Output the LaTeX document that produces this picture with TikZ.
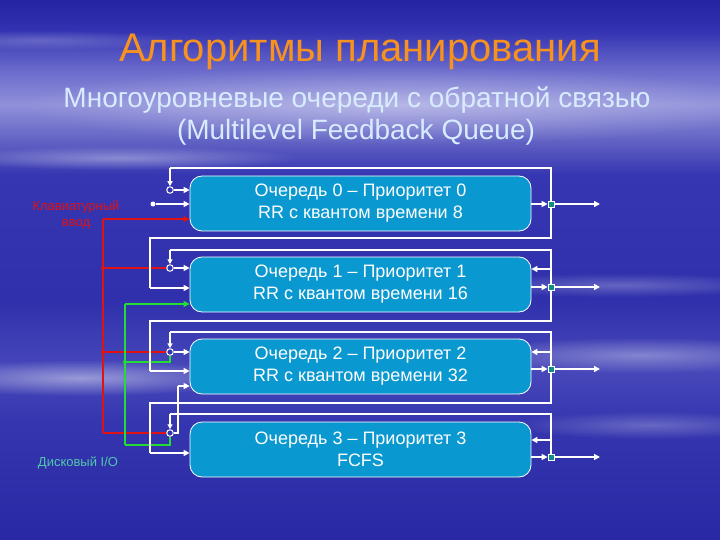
\documentclass[tikz,border=0pt]{standalone}
\usepackage{fontspec}
\setmainfont{Liberation Sans}
\usetikzlibrary{arrows.meta,fadings}
\definecolor{qfill}{HTML}{0A98D0}
\definecolor{sqfill}{HTML}{138D8A}
\definecolor{ringfill}{HTML}{3434B0}
\definecolor{titleor}{HTML}{F7921E}
\definecolor{subcol}{HTML}{D8ECFF}
\definecolor{redln}{HTML}{E01212}
\definecolor{greenln}{HTML}{22DD33}
\definecolor{iocol}{HTML}{50C8AA}
\definecolor{b0}{HTML}{2525A2}
\definecolor{b1}{HTML}{3232B2}
\definecolor{b2}{HTML}{6A6ACC}
\definecolor{b3}{HTML}{9090DA}
\definecolor{b4}{HTML}{6262C4}
\definecolor{b5}{HTML}{3636B2}
\definecolor{b6}{HTML}{3030AC}
\definecolor{b7}{HTML}{4848BA}
\definecolor{b8}{HTML}{3636B0}
\definecolor{b9}{HTML}{2828A4}
\pgfdeclareverticalshading{bgshade}{100bp}{color(0bp)=(b9); color(25bp)=(b9); color(36.1bp)=(b8); color(40.7bp)=(b7); color(47.2bp)=(b6); color(58.8bp)=(b5); color(62bp)=(b4); color(65.3bp)=(b3); color(68.5bp)=(b2); color(72.2bp)=(b1); color(75bp)=(b0); color(100bp)=(b0)}
\tikzfading[name=softoval, inner color=transparent!0, outer color=transparent!100]
\begin{document}
\begin{tikzpicture}[x=1pt,y=-1pt,
  wire/.style={white, line width=1.2pt},
  arr/.style={white, line width=1.8pt, -{Triangle[length=6pt,width=6pt]}},
  arrthin/.style={white, line width=1.2pt, -{Triangle[length=5pt,width=5pt]}},
  redw/.style={redln, line width=1.3pt},
  greenw/.style={greenln, line width=1.3pt},
  qbox/.style={rounded corners=12pt, fill=qfill, draw=white, line width=0.8pt,
    minimum width=341pt, minimum height=55pt, text=white, align=center,
    font=\fontsize{18}{22}\selectfont},
  ring/.style={circle, draw=white, line width=1pt, fill=ringfill, inner sep=0pt, minimum size=6.5pt},
  outsq/.style={rectangle, draw=white, fill=sqfill, line width=0.8pt, inner sep=0pt, minimum size=6pt},
  wdot/.style={circle, fill=white, inner sep=0pt, minimum size=5pt},
  rdot/.style={circle, fill=redln, inner sep=0pt, minimum size=4pt},
  gdot/.style={circle, fill=greenln, inner sep=0pt, minimum size=4pt},
  streak/.style={white, path fading=softoval}
]
\useasboundingbox (0,0) rectangle (720,540);
\shade[shading=bgshade] (0,0) rectangle (720,540);
% streaks
\fill[streak, opacity=0.35] (400,105) ellipse [x radius=380, y radius=40];
\fill[streak, opacity=0.35] (120,158) ellipse [x radius=180, y radius=12];
\fill[streak, opacity=0.25] (620,285) ellipse [x radius=160, y radius=12];
\fill[streak, opacity=0.45] (80,378) ellipse [x radius=170, y radius=18];
\fill[streak, opacity=0.35] (640,355) ellipse [x radius=180, y radius=18];
\fill[streak, opacity=0.25] (650,425) ellipse [x radius=140, y radius=14];
\fill[streak, opacity=0.2] (40,40) ellipse [x radius=140, y radius=10];

% titles
\node[text=titleor, font=\fontsize{40}{48}\selectfont] (title) at (360,52) {Алгоритмы планирования};
\node[text=subcol, font=\fontsize{28}{32}\selectfont] (sub1) at (357,100) {Многоуровневые очереди с обратной связью};
\node[text=subcol, font=\fontsize{28}{32}\selectfont] (sub2) at (356,132) {(Multilevel Feedback Queue)};

% coordinates
\coordinate (tl0) at (170,168); \coordinate (tr0) at (551,168);
\coordinate (br0) at (551,238); \coordinate (bl0) at (150,238); \coordinate (e1) at (150,288);
\coordinate (tl1) at (170,250); \coordinate (tr1) at (551,250);
\coordinate (br1) at (551,321); \coordinate (bl1) at (150,321); \coordinate (e2) at (150,371);
\coordinate (tl2) at (170,332); \coordinate (tr2) at (551,332);
\coordinate (br2) at (551,403); \coordinate (bl2) at (150,403); \coordinate (e3) at (150,453);
\coordinate (tl3) at (170,414); \coordinate (tr3) at (551,414);
\coordinate (a1) at (551,269); \coordinate (a2) at (551,352); \coordinate (a3) at (551,440);
\coordinate (x0) at (600,204); \coordinate (x1) at (600,287); \coordinate (x2) at (600,369); \coordinate (x3) at (600,457);
\coordinate (k3a) at (178,433); \coordinate (k3b) at (178,386);
\coordinate (rt) at (103,219); \coordinate (rb) at (103,433);
\coordinate (gt) at (125,304); \coordinate (gb) at (125,445);
\coordinate (gk2) at (170,362); \coordinate (gk3) at (170,445);

% boxes
\node[qbox] (q0) at (360.5,203.5) {Очередь 0 – Приоритет 0\\RR с квантом времени 8};
\node[qbox] (q1) at (360.5,284.5) {Очередь 1 – Приоритет 1\\RR с квантом времени 16};
\node[qbox] (q2) at (360.5,366.5) {Очередь 2 – Приоритет 2\\RR с квантом времени 32};
\node[qbox] (q3) at (360.5,449.5) {Очередь 3 – Приоритет 3\\FCFS};

% rings, squares, dots
\node[ring] (r0) at (170,190) {};
\node[ring] (r1) at (170,268) {};
\node[ring] (r2) at (170,352) {};
\node[ring] (r3) at (170,433) {};
\node[wdot] (d0) at (153,204) {};
\node[rdot] (rd1) at (103,268) {};
\node[rdot] (rd2) at (103,352) {};
\node[gdot] (g2) at (125,362) {};

% red and green wires
\draw[redw] (rt) -- (rb);
\draw[redw, -{Triangle[length=6pt,width=6pt]}] (rt) -- (rt -| q0.west);
\draw[redw] (rd1) -- (r1);
\draw[redw] (rd2) -- (r2);
\draw[redw] (rb) -- (r3);
\draw[greenw] (gt) -- (gb);
\draw[greenw, -{Triangle[length=6pt,width=6pt]}] (gt) -- (gt -| q1.west);
\draw[greenw] (g2) -- (gk2) -- (r2);
\draw[greenw] (gb) -- (gk3) -- (r3);

% frames
\draw[wire] (tl0) -- (tr0) -- (br0) -- (bl0) -- (e1);
\draw[wire] (tl1) -- (tr1) -- (br1) -- (bl1) -- (e2);
\draw[wire] (tl2) -- (tr2) -- (br2) -- (bl2) -- (e3);
\draw[wire] (tl3) -- (tr3) -- (x3 -| tr3);
\draw[arrthin] (tl0) -- (r0);
\draw[arrthin] (tl1) -- (r1);
\draw[arrthin] (tl2) -- (r2);
\draw[arrthin] (tl3) -- (r3);

% entries
\draw[arr] (r0) -- (r0 -| q0.west);
\draw[arr] (d0) -- (d0 -| q0.west);
\draw[arr] (r1) -- (r1 -| q1.west);
\draw[arr] (e1) -- (e1 -| q1.west);
\draw[arr] (r2) -- (r2 -| q2.west);
\draw[arr] (e2) -- (e2 -| q2.west);
\draw[wire] (r3) -- (k3a) -- (k3b);
\draw[arr] (k3b) -- (k3b -| q2.west);
\draw[arr] (e3) -- (e3 -| q3.west);
\draw[arr] (a1) -- (a1 -| q1.east);
\draw[arr] (a2) -- (a2 -| q2.east);
\draw[arr] (a3) -- (a3 -| q3.east);

% outputs
\node[outsq] (s0) at (551,204) {};
\node[outsq] (s1) at (551,287) {};
\node[outsq] (s2) at (551,369) {};
\node[outsq] (s3) at (551,457) {};
\draw[arr] (q0.east |- s0) -- (s0.west);
\draw[arr] (q1.east |- s1) -- (s1.west);
\draw[arr] (q2.east |- s2) -- (s2.west);
\draw[arr] (q3.east |- s3) -- (s3.west);
\draw[arr] (s0) -- (x0);
\draw[arr] (s1) -- (x1);
\draw[arr] (s2) -- (x2);
\draw[arr] (s3) -- (x3);

% labels
\node[text=redln, align=center, font=\fontsize{13}{16}\selectfont] (kb) at (76,215) {Клавиатурный\\ввод};
\node[text=iocol, font=\fontsize{13}{16}\selectfont] (io) at (78,463) {Дисковый I/O};
\end{tikzpicture}
\end{document}
